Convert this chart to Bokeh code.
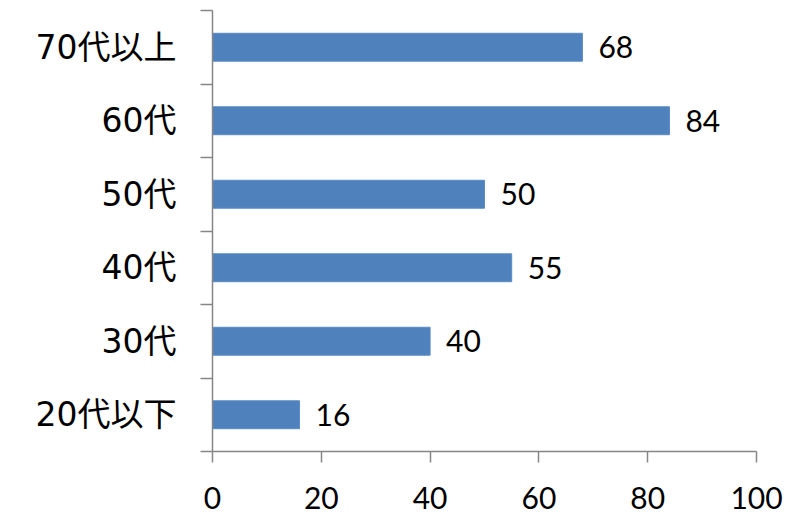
from bokeh.plotting import figure
from bokeh.models import Range1d, FixedTicker, ColumnDataSource, LabelSet
from bokeh.core.properties import value
from bokeh.embed import file_html
from bokeh.resources import INLINE

categories = ["20代以下", "30代", "40代", "50代", "60代", "70代以上"]
values = [16, 40, 55, 50, 84, 68]
x_ticks = [0, 20, 40, 60, 80, 100]

pos = [i + 0.5 for i in range(len(categories))]
src = ColumnDataSource(dict(y=pos, v=values, lbl=[str(v) for v in values]))

p = figure(width=798, height=520, output_backend="svg", toolbar_location=None,
           x_range=Range1d(0, 100), y_range=Range1d(0, len(categories)),
           min_border_left=212, min_border_right=42, min_border_top=10, min_border_bottom=69)
p.outline_line_color = None
p.grid.visible = False
p.background_fill_color = "white"
p.border_fill_color = "white"

p.hbar(y="y", left=0, right="v", height=0.38, source=src,
       fill_color="#4F81BD", line_color="#5B8CC6", line_width=1)

labels = LabelSet(x="v", y="y", text="lbl", source=src, x_offset=16,
                  text_align="left", text_baseline="middle",
                  text_font=value("Lato"), text_font_size="30px", text_color="black")
p.add_layout(labels)

axis_color = "#868686"
xa = p.xaxis[0]
xa.ticker = FixedTicker(ticks=x_ticks)
xa.axis_line_color = axis_color
xa.major_tick_line_color = axis_color
xa.major_tick_out = 11
xa.major_tick_in = 0
xa.minor_tick_line_color = None
xa.major_label_text_font = "Lato"
xa.major_label_text_font_size = "30px"
xa.major_label_text_color = "black"
xa.major_label_standoff = 24
xa.axis_line_width = 1.5
xa.major_tick_line_width = 1.5

ya = p.yaxis[0]
ya.ticker = FixedTicker(ticks=pos, minor_ticks=list(range(len(categories) + 1)))
ya.major_label_overrides = {pv: c for pv, c in zip(pos, categories)}
ya.axis_line_color = axis_color
ya.major_tick_line_color = None
ya.major_tick_out = 0
ya.major_tick_in = 0
ya.minor_tick_line_color = axis_color
ya.minor_tick_out = 12
ya.minor_tick_in = 0
ya.major_label_text_font = "'DejaVu Sans', 'Noto Sans CJK JP'"
ya.major_label_text_font_size = "33px"
ya.major_label_text_color = "black"
ya.major_label_standoff = 24
ya.axis_line_width = 1.5
ya.minor_tick_line_width = 1.5

open("out.html", "w").write(file_html(p, INLINE))
